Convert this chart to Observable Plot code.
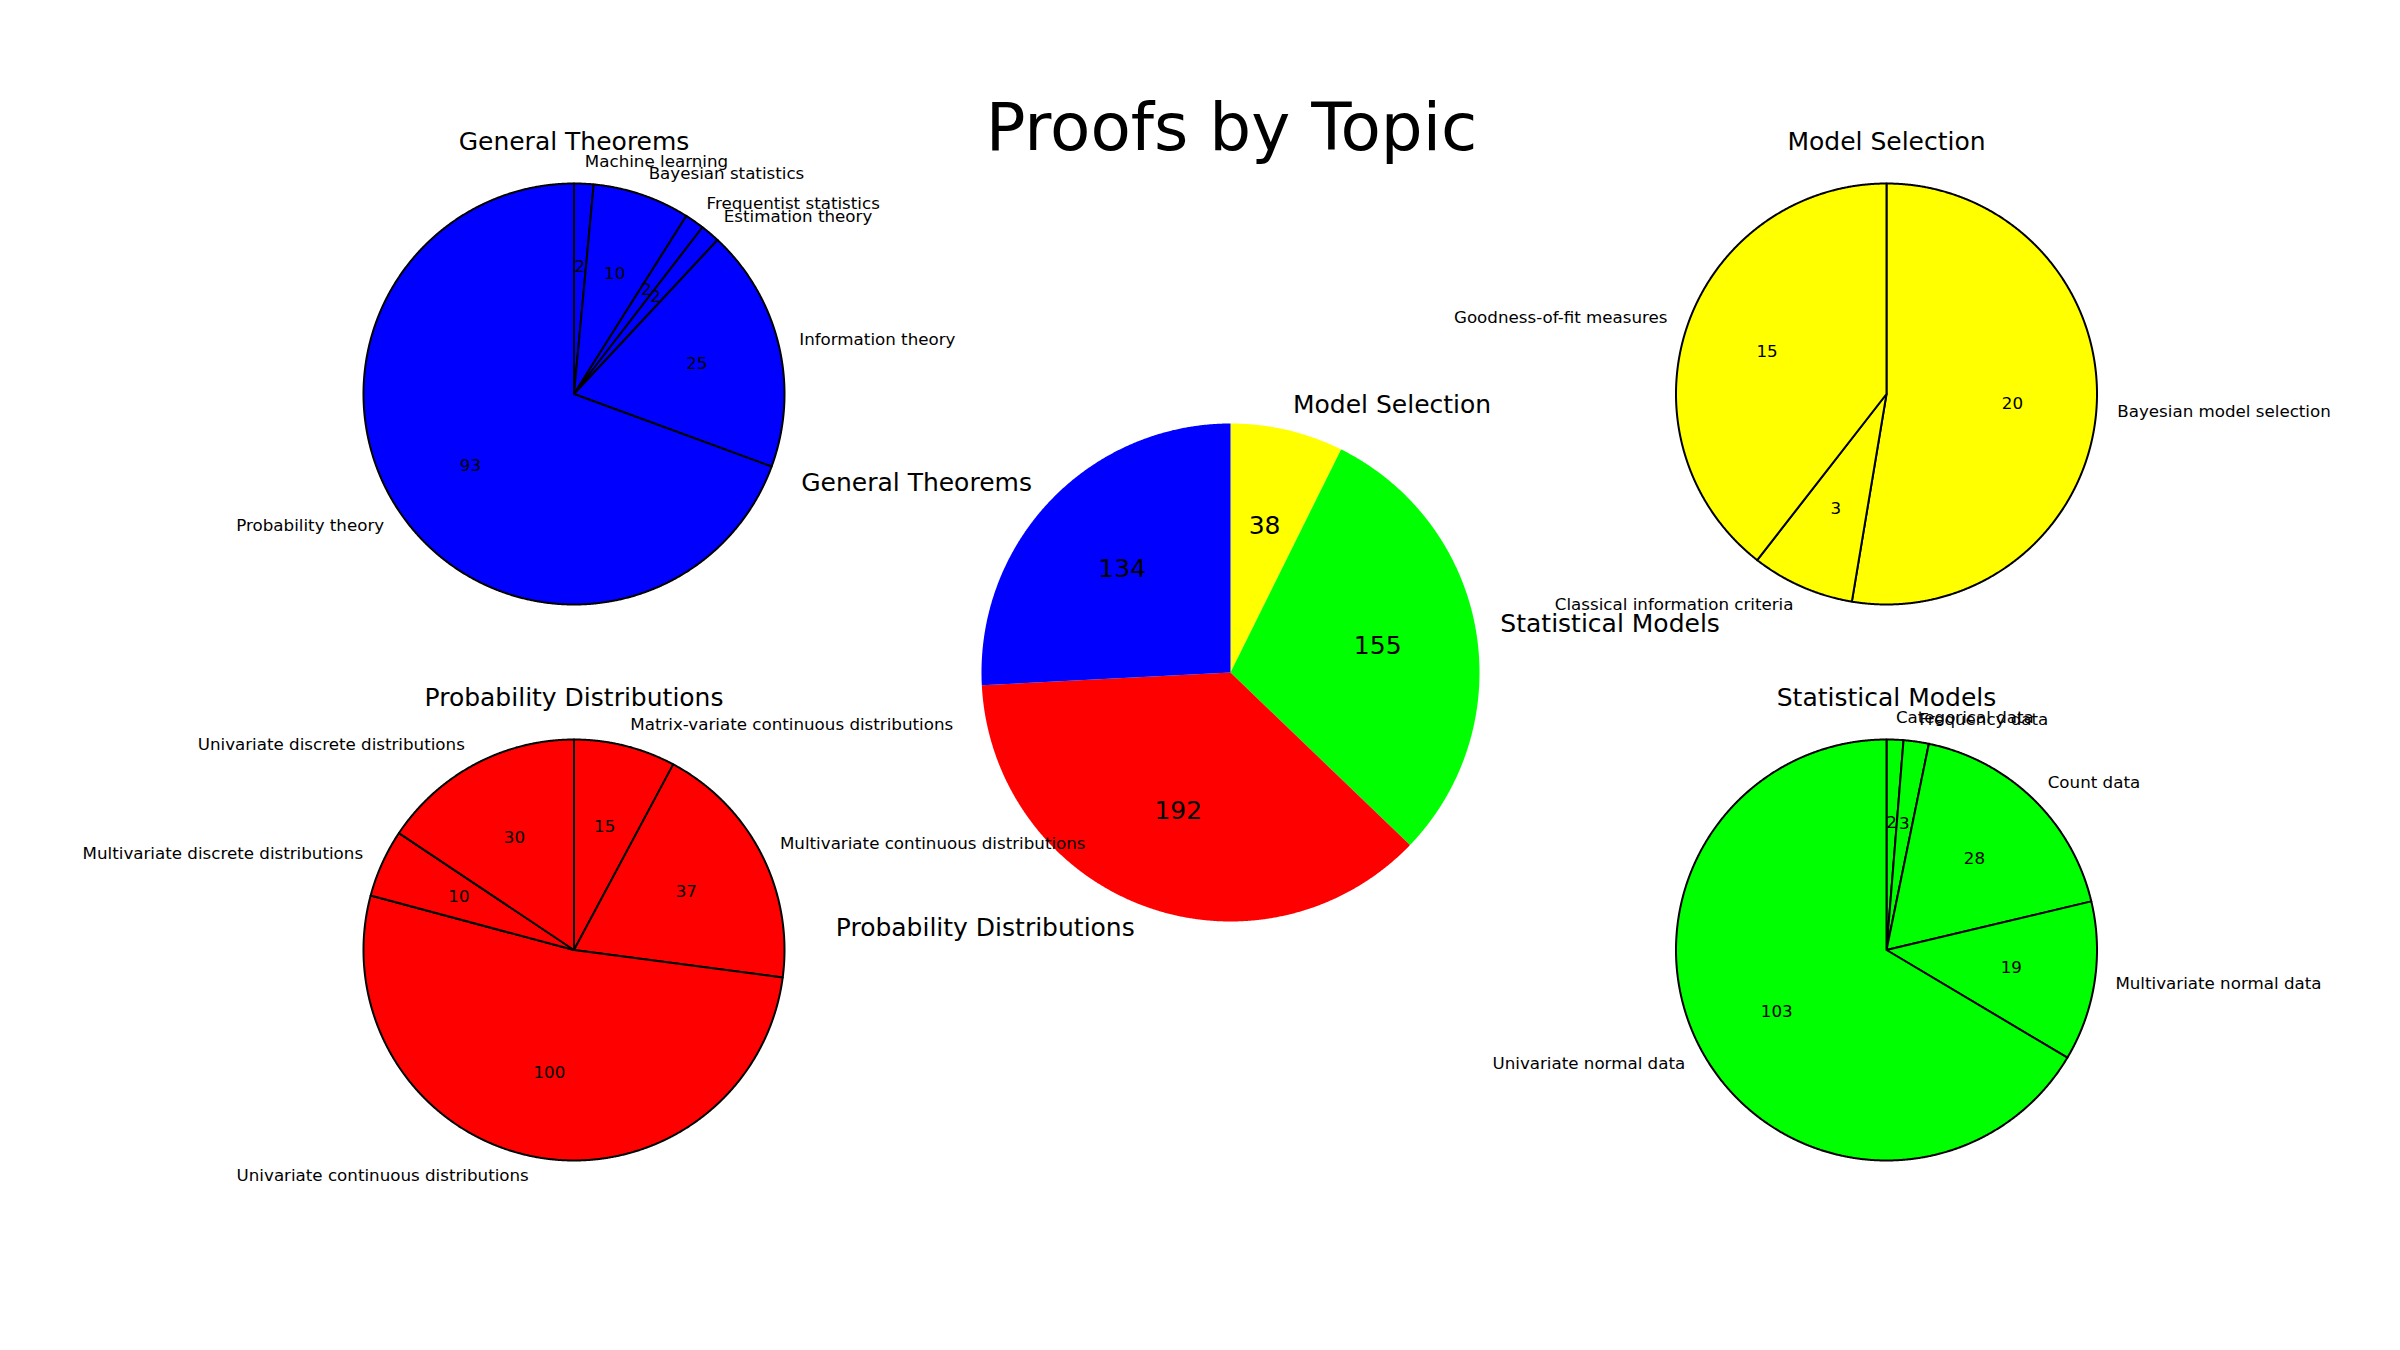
<!DOCTYPE html>
<html>
<head>
<meta charset="utf-8">
<script src="https://cdn.jsdelivr.net/npm/d3@7"></script>
<script src="https://cdn.jsdelivr.net/npm/@observablehq/plot@0.6"></script>
<style>
  html, body { margin: 0; padding: 0; background: #ffffff; }
  #chart { width: 2400px; height: 1350px; }
</style>
</head>
<body>
<div id="chart"></div>
<script>
// ---------------- data ----------------
const figureTitle = "Proofs by Topic";

const topicLabels = ["Model Selection", "Statistical Models", "Probability Distributions", "General Theorems"];
const topicCounts = [38, 155, 192, 134];
const topicColors = ["#ffff00", "#00ff00", "#ff0000", "#0000ff"];

const generalTitle = "General Theorems";
const generalLabels = ["Machine learning", "Bayesian statistics", "Frequentist statistics", "Estimation theory", "Information theory", "Probability theory"];
const generalCounts = [2, 10, 2, 2, 25, 93];

const modelSelTitle = "Model Selection";
const modelSelLabels = ["Bayesian model selection", "Classical information criteria", "Goodness-of-fit measures"];
const modelSelCounts = [20, 3, 15];

const probDistTitle = "Probability Distributions";
const probDistLabels = ["Matrix-variate continuous distributions", "Multivariate continuous distributions", "Univariate continuous distributions", "Multivariate discrete distributions", "Univariate discrete distributions"];
const probDistCounts = [15, 37, 100, 10, 30];

const statModelTitle = "Statistical Models";
const statModelLabels = ["Categorical data", "Frequency data", "Count data", "Multivariate normal data", "Univariate normal data"];
const statModelCounts = [2, 3, 28, 19, 103];

// ---------------- layout (figure pixel space) ----------------
const W = 2400, H = 1350;
const panels = [
  {title: null, labels: topicLabels, counts: topicCounts, colors: topicColors, cx: 1230, cy: 672, r: 249, textSize: 25, edge: false},
  {title: generalTitle, labels: generalLabels, counts: generalCounts, colors: generalCounts.map(() => topicColors[3]), cx: 573.5, cy: 393.5, r: 210.5, textSize: 16.7, edge: true},
  {title: modelSelTitle, labels: modelSelLabels, counts: modelSelCounts, colors: modelSelCounts.map(() => topicColors[0]), cx: 1886, cy: 393.5, r: 210.5, textSize: 16.7, edge: true},
  {title: probDistTitle, labels: probDistLabels, counts: probDistCounts, colors: probDistCounts.map(() => topicColors[2]), cx: 573.5, cy: 949.5, r: 210.5, textSize: 16.7, edge: true},
  {title: statModelTitle, labels: statModelLabels, counts: statModelCounts, colors: statModelCounts.map(() => topicColors[1]), cx: 1886, cy: 949.5, r: 210.5, textSize: 16.7, edge: true}
];

const pie = d3.pie().sort(null).value(d => d);
const slices = [];
const labelRows = [];
const valueRows = [];
const titleRows = [{text: figureTitle, x: 1231, y: 128, size: 66}];

for (const p of panels) {
  const arcs = pie(p.counts);
  arcs.forEach((a, i) => {
    const a0 = a.startAngle, a1 = a.endAngle;
    const n = Math.max(2, Math.ceil((a1 - a0) / (Math.PI / 720)));
    const ring = [[p.cx, p.cy]];
    for (let k = 0; k <= n; k++) {
      const t = a0 + (a1 - a0) * k / n;
      ring.push([p.cx + p.r * Math.sin(t), p.cy - p.r * Math.cos(t)]);
    }
    ring.push([p.cx, p.cy]);
    slices.push({
      type: "Feature",
      properties: {fill: p.colors[i], edge: p.edge},
      geometry: {type: "Polygon", coordinates: [ring]}
    });
    const mid = (a0 + a1) / 2;
    const s = Math.sin(mid), c = Math.cos(mid);
    labelRows.push({
      text: p.labels[i],
      x: p.cx + 1.1 * p.r * s,
      y: p.cy - 1.1 * p.r * c - 1,
      anchor: s > 1e-9 ? "start" : "end",
      size: p.textSize
    });
    valueRows.push({
      text: String(p.counts[i]),
      x: p.cx + 0.6 * p.r * s,
      y: p.cy - 0.6 * p.r * c - 1,
      size: p.textSize
    });
  });
  if (p.title) titleRows.push({text: p.title, x: p.cx, y: p.cy - 252.5, size: 25});
}

const frameRect = {type: "Polygon", coordinates: [[[0, 0], [W, 0], [W, H], [0, H], [0, 0]]]};
const font = "DejaVu Sans";

const chart = Plot.plot({
  width: W,
  height: H,
  margin: 0,
  projection: {type: "identity", domain: frameRect},
  style: {fontFamily: font, background: "#ffffff"},
  marks: [
    Plot.geo(slices.filter(d => !d.properties.edge), {fill: d => d.properties.fill, stroke: "none"}),
    Plot.geo(slices.filter(d => d.properties.edge), {fill: d => d.properties.fill, stroke: "#000000", strokeWidth: 2}),
    Plot.text(valueRows, {x: "x", y: "y", text: "text", fontSize: "size", textAnchor: "middle", fill: "#000000", fontFamily: font}),
    Plot.text(labelRows.filter(d => d.anchor === "start"), {x: "x", y: "y", text: "text", fontSize: "size", textAnchor: "start", fill: "#000000", fontFamily: font}),
    Plot.text(labelRows.filter(d => d.anchor === "end"), {x: "x", y: "y", text: "text", fontSize: "size", textAnchor: "end", fill: "#000000", fontFamily: font}),
    Plot.text(titleRows, {x: "x", y: "y", text: "text", fontSize: "size", textAnchor: "middle", fill: "#000000", fontFamily: font})
  ]
});

document.getElementById("chart").appendChild(chart);
</script>
</body>
</html>
